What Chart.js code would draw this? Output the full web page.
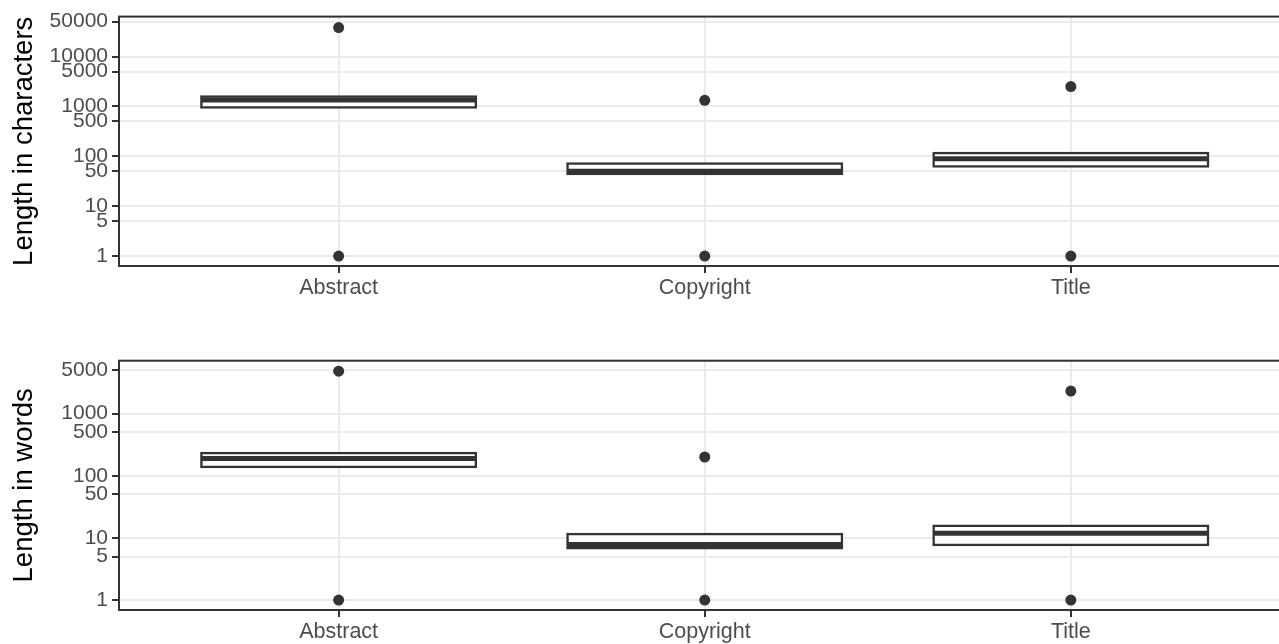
<!DOCTYPE html>
<html>
<head>
<meta charset="utf-8">
<script src="https://cdn.jsdelivr.net/npm/chart.js@4.4.1/dist/chart.umd.min.js"></script>
<style>
    html, body { margin: 0; padding: 0; overflow: hidden; background: #fff; }
    .panel { position: relative; width: 1296px; height: 322px; }
</style>
</head>
<body>
<div class="panel"><canvas id="chart-chars" width="1296" height="322"></canvas></div>
<div class="panel"><canvas id="chart-words" width="1296" height="322"></canvas></div>

<script>
const categories = ["Abstract", "Copyright", "Title"];

// longitud en caracteres
const charTicks = [1, 5, 10, 50, 100, 500, 1000, 5000, 10000, 50000];
const charQ1 = [950, 44, 62];
const charMedian = [1350, 50, 89];
const charQ3 = [1570, 72, 116];
const charOutlierLow = [1, 1, 1];
const charOutlierHigh = [38000, 1320, 2500];

// longitud en palabras
const wordTicks = [1, 5, 10, 50, 100, 500, 1000, 5000];
const wordQ1 = [138, 6.8, 7.7];
const wordMedian = [190, 7.8, 11.9];
const wordQ3 = [232, 11.5, 15.7];
const wordOutlierLow = [1, 1, 1];
const wordOutlierHigh = [4800, 200, 2300];

const DARK = "#333333";
const GRID = "#EBEBEB";
const BOX_WIDTH = 0.75;
const FONT = "'Liberation Sans', Arial, sans-serif";

const panelBorder = {
    id: "panelBorder",
    afterDatasetsDraw(chart) {
        const { ctx, chartArea: a } = chart;
        ctx.save();
        ctx.strokeStyle = DARK;
        ctx.lineWidth = 2;
        ctx.strokeRect(a.left, a.top, a.width, a.height);
        ctx.restore();
    },
};

function boxChart(canvasId, opts) {
    const ctx = document.getElementById(canvasId);
    if (!ctx) return null;

    const half = BOX_WIDTH / 2;
    const medianPoints = categories.flatMap((c, i) => [
        { x: i + 1 - half, y: opts.median[i] },
        { x: i + 1 + half, y: opts.median[i] },
        { x: i + 1.5, y: null },
    ]);
    const outliers = categories.flatMap((c, i) => [
        { x: i + 1, y: opts.low[i] },
        { x: i + 1, y: opts.high[i] },
    ]);

    return new Chart(ctx, {
        type: "bar",
        data: {
            datasets: [
                {
                    type: "line",
                    data: outliers,
                    showLine: false,
                    pointRadius: 5.5,
                    pointBackgroundColor: DARK,
                    pointBorderWidth: 0,
                    order: 0,
                },
                {
                    type: "line",
                    data: medianPoints,
                    borderColor: DARK,
                    borderWidth: 5,
                    borderCapStyle: "butt",
                    pointRadius: 0,
                    spanGaps: false,
                    order: 1,
                },
                {
                    type: "bar",
                    data: categories.map((c, i) => ({ x: i + 1, y: [opts.q1[i], opts.q3[i]] })),
                    backgroundColor: "#ffffff",
                    borderColor: DARK,
                    borderWidth: 2.5,
                    borderSkipped: false,
                    inflateAmount: 1.25,
                    categoryPercentage: 1,
                    barPercentage: BOX_WIDTH,
                    order: 2,
                },
            ],
        },
        options: {
            responsive: false,
            animation: false,
            devicePixelRatio: 1,
            events: [],
            layout: { padding: { top: opts.padTop, left: 0, right: 0, bottom: 0 } },
            plugins: { legend: { display: false }, tooltip: { enabled: false } },
            scales: {
                x: {
                    type: "linear",
                    min: 0.4,
                    max: 3.6,
                    offset: false,
                    afterBuildTicks: s => { s.ticks = categories.map((c, i) => ({ value: i + 1 })); },
                    afterFit: s => { s.height = opts.xHeight; },
                    grid: { offset: false, color: GRID, lineWidth: 2, tickColor: DARK, tickLength: 7, tickWidth: 2 },
                    border: { display: false },
                    ticks: {
                        autoSkip: false,
                        maxRotation: 0,
                        padding: 2,
                        color: "#4D4D4D",
                        font: { family: FONT, size: 21.5 },
                        callback: v => categories[v - 1] ?? "",
                    },
                },
                y: {
                    type: "logarithmic",
                    min: opts.min,
                    max: opts.max,
                    bounds: "data",
                    afterBuildTicks: s => { s.ticks = opts.ticks.map(v => ({ value: v })); },
                    afterFit: s => { s.width = 119; },
                    grid: { color: GRID, lineWidth: 2, tickColor: DARK, tickLength: 7, tickWidth: 2 },
                    border: { display: false },
                    ticks: {
                        autoSkip: false,
                        padding: 4,
                        color: "#4D4D4D",
                        font: { family: FONT, size: 21 },
                        callback: v => String(v),
                    },
                    title: {
                        display: true,
                        text: opts.title,
                        color: "#000000",
                        font: { family: FONT, size: 27.5 },
                        padding: { top: 8, bottom: 0 },
                    },
                },
            },
        },
        plugins: [panelBorder],
    });
}

boxChart("chart-chars", {
    title: "Length in characters",
    ticks: charTicks,
    q1: charQ1, median: charMedian, q3: charQ3,
    low: charOutlierLow, high: charOutlierHigh,
    min: Math.pow(10, -0.2), max: Math.pow(10, 4.8),
    padTop: 16, xHeight: 56,
});

boxChart("chart-words", {
    title: "Length in words",
    ticks: wordTicks,
    q1: wordQ1, median: wordMedian, q3: wordQ3,
    low: wordOutlierLow, high: wordOutlierHigh,
    min: Math.pow(10, -0.16), max: Math.pow(10, 3.85),
    padTop: 38.7, xHeight: 34,
});
</script>
</body>
</html>
